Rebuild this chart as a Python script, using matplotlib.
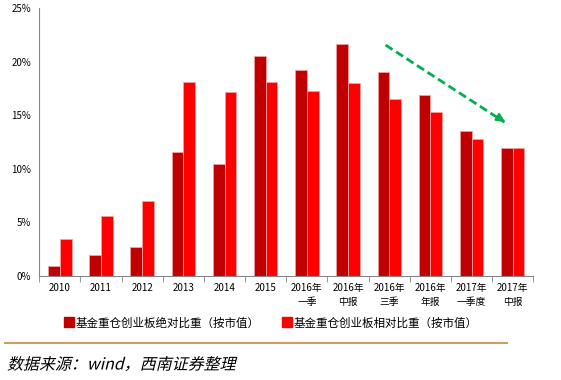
import matplotlib
matplotlib.use("Agg")
import matplotlib.pyplot as plt
import matplotlib.transforms as mtransforms
from matplotlib.textpath import TextPath
from matplotlib.patches import PathPatch
from matplotlib.font_manager import FontProperties
from matplotlib.lines import Line2D
import numpy as np

plt.rcParams['font.family'] = ['Noto Sans CJK SC', 'DejaVu Sans']

categories = ["2010", "2011", "2012", "2013", "2014", "2015",
              "2016年\n一季", "2016年\n中报", "2016年\n三季", "2016年\n年报",
              "2017年\n一季度", "2017年\n中报"]
absolute = [0.96, 1.96, 2.68, 11.54, 10.48, 20.55, 19.19, 21.6, 19.06, 16.85, 13.56, 11.97]
relative = [3.45, 5.6, 7.03, 18.1, 17.13, 18.13, 17.29, 17.97, 16.51, 15.33, 12.78, 11.97]
series_names = ["基金重仓创业板绝对比重（按市值）", "基金重仓创业板相对比重（按市值）"]
source = "数据来源：wind，西南证券整理"

fig = plt.figure(figsize=(5.61, 3.80), dpi=100)
ax = fig.add_axes([0.070, 0.2737, 0.8807, 0.7052])

x = np.arange(len(categories))
w = 0.285
ax.bar(x - w / 2, absolute, w, color='#C00000', edgecolor='#F2A0A0', linewidth=0.6)
ax.bar(x + w / 2, relative, w, color='#FF0000', edgecolor='#F2A0A0', linewidth=0.6)

ax.set_xlim(-0.5, len(categories) - 0.5)
ax.set_ylim(0, 25)
ax.set_yticks([0, 5, 10, 15, 20, 25])
ax.set_yticklabels([f"{v}%" for v in [0, 5, 10, 15, 20, 25]], fontsize=7)
ax.set_xticks(x)
ax.set_xticklabels(categories, fontsize=7, linespacing=1.5)
ax.set_xticks(np.arange(-0.5, len(categories)), minor=True)
ax.tick_params(axis='x', which='major', length=0, pad=5)
ax.tick_params(axis='x', which='minor', length=4, color='#868686')
ax.tick_params(axis='y', length=0, pad=6)
for side in ['top', 'right']:
    ax.spines[side].set_visible(False)
for side in ['left', 'bottom']:
    ax.spines[side].set_color('#868686')

# green trend arrow
ax.plot([7.91, 10.80], [21.55, 14.35], color='#00B050', lw=2, linestyle=(0, (3, 1.5)))
ax.annotate('', xy=(10.87, 14.24), xytext=(10.6, 14.9),
            arrowprops=dict(arrowstyle='-|>,head_length=0.5,head_width=0.25',
                            color='#00B050', lw=1.5))

handles = [Line2D([], [], marker='s', linestyle='None', markersize=6.5, color=c)
           for c in ['#C00000', '#FF0000']]
fig.legend(handles, series_names, loc='center', bbox_to_anchor=(0.482, 0.15),
           ncol=2, frameon=False, fontsize=8.3, handletextpad=0.05,
           columnspacing=1.9, handlelength=1.0)

fig.add_artist(Line2D([5 / 561, 507 / 561], [1 - 343.3 / 380] * 2,
                      color='#C8A060', lw=1.5, transform=fig.transFigure))

fp = FontProperties(family='Noto Sans CJK SC', size=11.5)
tp = TextPath((0, 0), source, prop=fp)
tr = mtransforms.Affine2D().skew_deg(14, 0).scale(1 / 72).translate(7 / 100, 0.105) + fig.dpi_scale_trans
fig.add_artist(PathPatch(tp, transform=tr, facecolor='black', lw=0))

fig.savefig("out.png", dpi=100)
